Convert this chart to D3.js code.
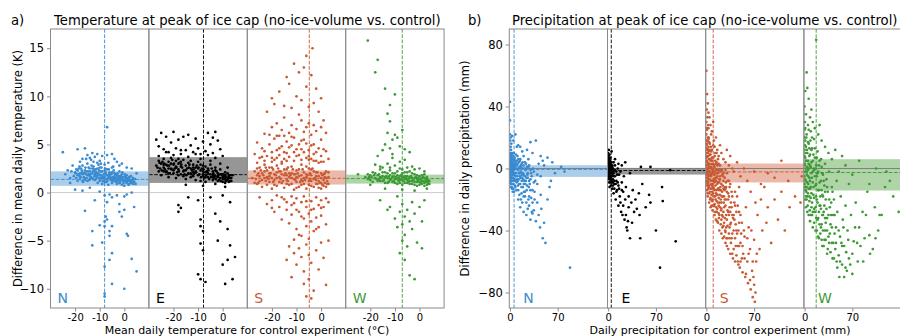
<!DOCTYPE html>
<html><head><meta charset="utf-8">
<script src="https://cdn.jsdelivr.net/npm/d3@7"></script>
<style>body{margin:0;background:#fff}text{font-family:"DejaVu Sans",sans-serif}</style>
</head><body><script>
// ---------- DATA ----------
const regions = ["N","E","S","W"];
const tempXTicks = [-20,-10,0];
const tempYTicks = [-10,-5,0,5,10,15];
const precXTicks = [0,70];
const precYTicks = [-80,-40,0,40,80];

const tempMeanX = [-8,-7.8,-4.8,-7];
const tempMeanY = [1.37,1.86,1.48,1.45];
const tempBandLo = [0.7,1.0,0.83,0.93];
const tempBandHi = [2.2,3.68,2.3,1.86];

const precMeanX = [6,4.5,10,17];
const precMeanY = [-0.6,-1.3,-2.2,-2.6];
const precBandLo = [-5.4,-3.9,-9,-14.2];
const precBandHi = [2.1,0.4,3.2,6];

const tempN = [[-20,2.1],[-19,1.8],[-18.5,2.5],[-18,1.4],[-17.5,2.0],[-17,2.8],[-16.5,1.6],[-16,2.3],[-15.5,1.9],[-15,3.0],[-15,1.2],[-14.5,2.6],[-14,1.7],[-14,2.2],[-13.5,3.4],[-13,1.5],[-13,2.0],[-12.5,2.7],[-12,1.3],[-12,1.9],[-11.5,2.4],[-11,1.6],[-11,3.1],[-10.5,2.0],[-10,1.2],[-10,2.6],[-9.5,1.8],[-9,0.9],[-9,2.2],[-8.5,1.5],[-8,2.9],[-8,1.1],[-7.5,1.9],[-7,1.4],[-7,2.4],[-6.5,0.8],[-6,1.7],[-6,2.1],[-5.5,1.3],[-5,2.6],[-5,1.0],[-4.5,1.6],[-4,2.0],[-4,1.2],[-3.5,1.5],[-3,0.9],[-3,1.8],[-2.5,1.3],[-2,2.2],[-2,1.0],[-1.5,1.5],[-1,0.8],[-1,1.9],[-0.5,1.2],[0,1.6],[0,0.7],[0.5,1.3],[1,1.0],[1,1.8],[1.5,1.4],[2,0.9],[2,1.6],[2.5,1.2],[3,1.0],[3.5,1.5],[4,1.1],
[-19.5,1.5],[-18,2.0],[-16,1.3],[-14.5,1.9],[-13,2.5],[-11.5,1.4],[-10,1.8],[-9,1.5],[-8,2.3],[-6.5,1.5],[-5.5,2.0],[-4,1.6],[-2.5,1.7],[-1,1.4],[0.5,1.7],[2,1.3],[-17,1.2],[-12,2.2],[-7,1.8],[-3,1.4],
[-19.5,2.4],[-19,1.2],[-18.7,1.9],[-18.2,2.7],[-17.8,1.6],[-17.3,2.3],[-16.8,1.1],[-16.3,2.0],[-15.8,2.6],[-15.3,1.5],[-14.8,2.2],[-14.3,1.3],[-13.8,1.9],[-13.3,2.8],[-12.8,1.4],[-12.3,2.4],[-11.8,1.7],[-11.3,2.1],[-10.8,1.0],[-10.3,2.3],[-9.8,1.5],[-9.3,2.6],[-8.8,1.2],[-8.3,1.9],[-7.8,2.5],[-7.3,1.1],[-6.8,1.8],[-6.3,2.4],[-5.8,1.5],[-5.3,1.9],[-4.8,1.2],[-4.3,2.3],[-3.8,1.7],[-3.3,1.1],[-2.8,2.0],[-2.3,1.5],[-1.8,1.0],[-1.3,1.7],[-0.8,2.1],[-0.3,1.0],[0.2,1.9],[0.7,1.1],[1.2,1.5],[1.7,0.8],[2.2,1.2],[2.7,1.7],[3.2,1.3],[3.7,0.9],[4.3,1.4],[-20.5,1.7],[-21.5,2.2],[-22,1.0],[-9.5,3.0],[-12.5,3.2],[-15.5,3.5],[-6.5,3.1],[-2,2.8],[-18,3.2],[-10.5,2.9],[-4.5,2.7],
[-19.8,2.0],[-18.9,2.3],[-18.1,1.7],[-17.6,2.5],[-16.9,1.9],[-16.1,1.5],[-15.6,2.2],[-14.9,1.8],[-14.1,2.5],[-13.6,1.6],[-12.9,2.2],[-12.1,1.7],[-11.6,2.0],[-10.9,2.5],[-10.1,1.5],[-9.6,2.2],[-8.9,1.7],[-8.1,1.4],[-7.6,2.1],[-6.9,1.2],[-6.1,1.9],[-5.6,1.6],[-4.9,2.1],[-4.1,1.4],[-3.6,1.9],[-2.9,1.2],[-2.1,1.7],[-1.6,1.2],[-0.9,1.6],[-0.1,1.3],[0.6,1.5],[1.3,1.2],[1.9,1.4],[2.6,1.0],[3.3,1.2],[4.6,0.9],[-17,2.1],[-14,1.4],[-11,1.8],[-8,1.6],[-5,1.4],[-2,1.4],[1,1.3],
[-25,4.2],[-21,2.8],[-19,4.5],[-17,3.5],[-16,4.6],[-15,3.9],[-14,3.6],[-13,4.1],[-12,3.7],[-11,4.0],[-10,3.3],[-9,3.8],[-7,3.9],[-5,4.0],[-4,3.5],[-3,3.2],[-1,3.0],[1,2.6],[3,2.5],[5,2.0],[-23,2.3],[-22,1.5],[-24,1.9],
[-20,0.3],[-17,0.2],[-14,0.5],[-12,-0.8],[-10,0.1],[-8,-0.3],[-7,-1.0],[-6,-0.2],[-5,-0.5],[-3,-0.3],[-2,-1.2],[0,-0.4],[1,-0.2],[3,0.0],[4,-1.5],[-16,-1.9],
[-7.5,-2.5],[-8,-3.0],[-7,-2.8],[-8,-3.5],[-10,-3.4],[-13,-4.0],[-13,-5.5],[-6,-4.0],[-5,-3.5],[-6,-4.5],[-9,-5.2],[-5,-6.3],[-6,-7.0],[-8,-7.7],[-8,-10.5],[-8,-10.8],[-5,-9.5],[1,-4.3],[1.5,-4.5],[3,-6.9],[5,-8.2],[0,-10.0],[-2,-2.0],[-1,-2.5],[0,-1.8],[-7,6.8]];

const tempE = [[-27,2.8],[-26,3.3],[-26,2.2],[-25,3.0],[-25,1.8],[-24,2.6],[-24,3.5],[-23,2.1],[-23,2.9],[-22,3.2],[-22,1.6],[-21,2.5],[-21,3.6],[-20,2.0],[-20,2.9],[-19,3.3],[-19,1.5],[-18,2.4],[-18,3.0],[-17,1.9],[-17,2.7],[-16,3.4],[-16,2.2],[-15,1.4],[-15,2.8],[-14,2.0],[-14,3.1],[-13,2.5],[-13,1.6],[-12,2.9],[-12,2.1],[-11,1.3],[-11,2.6],[-10,3.2],[-10,1.8],[-9,2.3],[-9,1.2],[-8,2.8],[-8,1.7],[-7,2.1],[-7,1.1],[-6,2.5],[-6,1.6],[-5,1.9],[-5,2.9],[-4,1.3],[-4,2.2],[-3,1.7],[-3,2.6],[-2,1.2],[-2,2.0],[-1,1.5],[-1,2.4],[0,1.1],[0,1.8],[0.5,1.4],[1,2.1],[1,1.0],[1.5,1.6],[2,1.3],[2,2.0],[2.5,1.1],[3,1.5],[3.5,1.2],[-26,3.8],[-20,3.9],[-14,3.7],[-9,3.5],[-5,3.3],[-1,3.0],[2,2.6],[-23,4.2],[-17,4.4],[-11,4.0],[-6,3.9],[-3,3.6],[4,1.8],[-15,0.8],[-8,0.7],[-3,0.9],[1,0.6],
[-24,2.2],[-21,3.0],[-18,1.8],[-15,2.3],[-12,1.7],[-10,2.5],[-7,1.6],[-4,1.8],[-2,1.6],[0,1.4],[2.5,1.6],[-19,2.7],[-13,3.3],[-8,2.2],
[-25.5,2.5],[-24.5,3.2],[-23.5,2.4],[-22.5,2.8],[-21.5,2.0],[-20.5,3.4],[-19.5,2.5],[-18.5,2.1],[-17.5,3.1],[-16.5,2.6],[-15.5,1.9],[-14.5,2.5],[-13.5,2.9],[-12.5,2.3],[-11.5,2.0],[-10.5,2.8],[-9.5,1.9],[-8.5,2.5],[-7.5,1.5],[-6.5,2.2],[-5.5,1.4],[-4.5,2.5],[-3.5,1.5],[-2.5,2.2],[-1.5,1.3],[-0.5,1.9],[0.5,1.7],[1.5,1.3],[2.5,1.8],[3.5,1.5],[-20,2.3],[-16,1.7],[-11,2.2],[-6,2.0],[-2,1.7],[1,1.5],[-24,2.9],[-13,2.0],[-8,1.9],[-4,1.6],[0,1.6],[3,1.2],[-22,2.5],[-18,3.5],[-9,2.9],[-1,1.9],
[-26.5,2.6],[-25.7,3.1],[-24.8,2.3],[-23.8,3.0],[-22.8,2.2],[-21.8,2.8],[-20.8,2.4],[-19.8,3.0],[-18.8,2.6],[-17.8,2.2],[-16.8,2.9],[-15.8,2.3],[-14.8,1.8],[-13.8,2.6],[-12.8,1.9],[-11.8,2.4],[-10.8,2.1],[-9.8,2.6],[-8.8,1.6],[-7.8,2.4],[-6.8,1.8],[-5.8,2.3],[-4.8,1.6],[-3.8,2.0],[-2.8,1.4],[-1.8,1.8],[-0.8,1.2],[0.2,1.9],[1.2,1.2],[2.2,1.5],[3.2,1.8],[-7,2.7],[-12,2.6],[-17,3.2],[-22,2.0],[-3,2.3],[1,1.8],
[-27,5.5],[-26,4.8],[-25,6.2],[-24,4.5],[-23,5.8],[-22,4.2],[-21,5.2],[-20,6.3],[-19,4.6],[-18,5.5],[-17,4.0],[-16,5.8],[-15,4.4],[-14,6.0],[-13,4.9],[-12,4.2],[-11,5.6],[-10,4.6],[-9,4.0],[-8,5.3],[-7,4.3],[-6,6.2],[-5,5.0],[-4,4.1],[-3,6.3],[-2,5.4],[-1,4.5],[0,3.8],[-4,5.7],
[-18,-1.3],[-18,-2.0],[-17,-1.6],[-14,-0.5],[-10,-0.8],[-9,-2.8],[-9,-3.5],[-8,-4.0],[-9,-5.3],[-8,-6.0],[-10,-8.5],[-9,-9.0],[-7,-9.3],[-2,-5.0],[0,-7.5],[2,-7.0],[3,-5.5],[1,-9.5],[4,-9.0],[-1,-3.0],[2,-3.8],[-3,-2.2],[3,-1.0],[5,-6.7],[-5,-0.5],[0,-0.3]];

const tempS = [[-28,1.5],[-27,2.2],[-26,0.9],[-26,1.8],[-25,2.6],[-25,1.2],[-24,0.6],[-24,2.0],[-23,1.5],[-23,2.9],[-22,0.8],[-22,2.3],[-21,1.7],[-21,1.1],[-20,2.6],[-20,0.4],[-19,1.9],[-19,1.3],[-18,2.8],[-18,0.7],[-17,1.6],[-17,2.2],[-16,1.0],[-16,3.0],[-15,1.8],[-15,0.5],[-14,2.4],[-14,1.3],[-13,0.8],[-13,2.0],[-12,2.7],[-12,1.5],[-11,0.3],[-11,1.9],[-10,2.3],[-10,1.1],[-9,0.6],[-9,1.7],[-8,2.9],[-8,1.3],[-7,0.9],[-7,2.1],[-6,1.6],[-6,0.4],[-5,2.5],[-5,1.2],[-4,1.8],[-4,0.7],[-3,1.4],[-3,2.2],[-2,0.9],[-2,1.7],[-1,1.2],[-1,0.5],[0,1.5],[0,2.0],[0.5,0.8],[1,1.3],[1,1.9],[1.5,1.0],[2,1.5],[2,0.6],[2.5,1.2],[3,1.6],[3,0.9],[-18,1.5],[-14,1.8],[-10,1.6],[-6,1.9],[-2,1.3],[-21,2.0],[-12,0.9],[-8,1.8],[-4,1.2],[0,1.0],
[-27,1.0],[-26,2.5],[-25,1.7],[-24,1.3],[-23,2.2],[-22,1.6],[-21,2.6],[-20,1.5],[-19,0.8],[-18,2.1],[-17,1.1],[-16,1.9],[-15,2.4],[-14,0.9],[-13,1.6],[-12,2.0],[-11,1.4],[-10,0.5],[-9,2.4],[-8,0.8],[-7,1.5],[-6,2.7],[-5,0.8],[-4,2.4],[-3,0.6],[-2,2.1],[-1,1.7],[0,0.4],[1,0.7],[2,2.2],[3,2.1],[-25.5,2.0],[-22.5,1.2],[-19.5,2.4],[-16.5,1.4],[-13.5,2.6],[-10.5,1.9],[-7.5,1.2],[-4.5,2.0],[-1.5,0.9],[1.5,1.6],[-23,4.3],[-20,3.2],[-17,4.6],[-14,3.3],[-11,4.2],[-8,3.4],[-5,3.4],[-2,4.2],[1,4.5],[-26,3.1],[-12,5.8],[-9,5.0],[-6,6.8],[-3,7.0],[-15,5.9],[-18,5.9],[-21,6.0],[0,6.8],[-7,5.5],[-4,4.9],
[-26.5,1.4],[-25.5,1.0],[-24.5,2.3],[-23.5,1.8],[-22.5,2.6],[-21.5,1.4],[-20.5,2.0],[-19.5,1.1],[-18.5,1.8],[-17.5,2.5],[-16.5,2.2],[-15.5,1.2],[-14.5,2.0],[-13.5,1.2],[-12.5,1.8],[-11.5,2.4],[-10.5,1.3],[-9.5,2.0],[-8.5,1.1],[-7.5,2.4],[-6.5,1.3],[-5.5,1.8],[-4.5,1.4],[-3.5,2.5],[-2.5,1.5],[-1.5,2.1],[-0.5,1.0],[0.5,1.8],[1.5,2.0],[2.5,0.9],[-20,3.6],[-15,4.2],[-10,3.8],[-5,3.8],[-13,4.7],[-8,4.5],[-3,3.3],[-18,3.6],[-24,3.7],[0,3.2],[-16,-0.5],[-12,-1.3],[-8,-2.5],[-4,-1.8],[0,-1.6],[-6,-0.9],[-10,-1.8],[-14,-1.0],[-2,-3.8],[-20,-1.6],
[-27,4.0],[-26,5.2],[-25,3.6],[-24,4.6],[-23,6.1],[-22,3.8],[-21,5.0],[-20,4.2],[-20,6.8],[-19,3.4],[-19,5.6],[-18,4.4],[-18,7.2],[-17,3.9],[-17,5.9],[-16,4.8],[-16,6.5],[-15,3.5],[-15,7.8],[-14,5.3],[-14,4.1],[-13,6.2],[-13,3.7],[-12,4.9],[-12,7.0],[-11,5.7],[-11,3.3],[-10,6.6],[-10,4.5],[-9,8.1],[-9,3.9],[-8,5.4],[-8,7.5],[-7,4.2],[-7,6.3],[-6,3.6],[-6,5.1],[-5,7.2],[-5,4.4],[-4,6.0],[-4,3.5],[-3,5.0],[-3,4.0],[-2,3.3],[-2,6.4],[-1,4.6],[0,3.8],[0,5.5],[1,3.2],[2,4.3],[3,3.5],[-1,3.1],[-23,3.3],[-16,3.2],
[-22,8.4],[-19,9.2],[-17,10.5],[-15,9.0],[-13,11.3],[-12,8.8],[-10,10.0],[-9,12.5],[-8,9.6],[-7,13.0],[-6,11.0],[-5,8.9],[-4,12.2],[-3.5,15.0],[-3,9.3],[-2,10.8],[-1,8.4],[0,9.8],[-11,13.4],[-14,12.0],[-6,14.2],[1,7.5],[-20,9.8],[2,6.2],
[-25,-0.5],[-22,-1.2],[-20,-0.8],[-19,-2.0],[-18,-0.3],[-17,-1.5],[-16,-2.8],[-15,-0.7],[-14,-1.8],[-13,-3.2],[-12,-0.4],[-12,-2.3],[-11,-1.1],[-10,-3.8],[-10,-0.6],[-9,-2.0],[-8,-4.5],[-8,-1.0],[-7,-2.7],[-7,-0.4],[-6,-3.5],[-6,-1.5],[-5,-2.2],[-5,-4.8],[-4,-0.9],[-4,-3.0],[-3,-1.7],[-3,-4.0],[-2,-0.5],[-2,-2.6],[-1,-1.3],[-1,-3.6],[0,-0.8],[0,-2.4],[1,-1.5],[2,-0.6],[2,-3.3],[3,-1.0],[-9,-4.4],[-11,-4.9],
[-13,-5.6],[-11,-6.3],[-10,-7.5],[-9,-5.8],[-8,-6.7],[-7,-8.2],[-6,-5.4],[-5,-9.0],[-5,-6.5],[-4,-7.3],[-3,-10.2],[-2,-6.0],[-1,-8.0],[0,-5.2],[1,-6.8],[2,-9.6],[-6,-10.8],[-4,-11.0],[-12,-8.8],[-14,-7.0],[3,-5.0],[-7,-9.5]];

const tempW = [[-22,1.6],[-21,1.9],[-20,1.3],[-19,2.1],[-18,1.5],[-17,1.8],[-16,2.4],[-16,1.2],[-15,1.7],[-14,2.1],[-14,1.0],[-13,1.5],[-12,2.3],[-12,1.8],[-11,1.1],[-11,1.6],[-10,2.0],[-10,1.4],[-9,0.9],[-9,1.8],[-8,2.5],[-8,1.3],[-7,1.6],[-7,0.8],[-6,2.1],[-6,1.4],[-5,1.0],[-5,1.7],[-4,2.2],[-4,1.2],[-3,0.9],[-3,1.5],[-2,1.9],[-2,1.1],[-1,1.4],[-1,0.7],[0,1.7],[0,1.1],[0.5,1.4],[1,0.9],[1,1.8],[1.5,1.2],[2,1.5],[2,0.7],[2.5,1.1],[3,1.3],[3.5,0.9],[4,1.2],[-15,2.6],[-10,2.8],[-5,2.6],[-13,3.0],[-8,3.2],[-3,2.7],[-18,2.9],[-11,3.6],[-6,3.4],[0,2.5],[-20,0.8],[-14,0.4],[-7,0.3],[-2,0.2],[3,0.4],[-25,1.9],[-17,3.8],
[-21,1.4],[-20,1.8],[-19,1.1],[-18,2.0],[-17,1.2],[-16,1.6],[-15,1.2],[-15,2.1],[-14,1.6],[-13,2.0],[-13,1.0],[-12,1.3],[-11,2.0],[-10,1.0],[-9,1.4],[-9,2.2],[-8,1.0],[-8,1.7],[-7,2.0],[-7,1.3],[-6,1.0],[-6,1.7],[-5,1.3],[-5,2.1],[-4,0.9],[-4,1.6],[-3,1.2],[-3,2.0],[-2,0.8],[-2,1.5],[-1,1.1],[-1,1.8],[0,0.8],[0,1.4],[1,1.2],[1,1.5],[2,1.0],[2,1.9],[3,0.8],[3,1.6],[3.5,1.3],[4,0.9],[-16.5,1.9],[-12.5,1.6],[-8.5,1.5],[-4.5,1.4],[-0.5,1.2],[2.5,1.4],[-10.5,1.7],[-6.5,1.2],
[-20.5,1.6],[-19.5,1.6],[-18.5,1.8],[-17.5,1.4],[-16.5,1.4],[-15.5,1.5],[-14.5,1.3],[-13.5,1.7],[-12.5,1.1],[-11.5,1.4],[-10.5,1.2],[-9.5,1.6],[-8.5,1.2],[-7.5,1.8],[-6.5,1.6],[-5.5,1.5],[-4.5,1.1],[-3.5,1.7],[-2.5,1.3],[-1.5,1.6],[-0.5,1.5],[0.5,1.0],[1.5,1.6],[2.5,1.2],[3.5,1.1],[-12,2.6],[-7,2.4],[-2,2.4],[-16,2.7],[2,2.2],
[-15,4.4],[-14,5.0],[-13,6.2],[-12,4.6],[-12,7.4],[-11,5.5],[-10,6.0],[-13,8.2],[-12,9.1],[-10,10.2],[-11,4.0],[-8,4.8],[-6,4.5],[-9,5.7],[-14,10.8],[-21,15.8],[-17,13.8],[-18,12.5],[-4,4.2],[-7,6.5],
[-16,-0.8],[-12,-1.5],[-9,-0.4],[-8,-2.0],[-7,-1.2],[-7,-3.3],[-6,-2.5],[-6,-4.4],[-5,-1.8],[-5,-5.6],[-4,-3.0],[-4,-8.6],[-3,-1.0],[-3,-3.8],[-2,-2.2],[-1,-5.2],[0,-1.5],[1,-3.0],[2,-0.8],[-8,-6.3],[-6,-7.0],[-2,-9.0],[-10,-2.7],[-9,-3.6],[-7,-5.0],[1,-5.8],[-13,-1.8]];

const precN = [[0.5,5],[1,8],[1,-3],[1.5,12],[2,2],[2,-6],[2.5,9],[3,-1],[3,4],[3.5,-8],[4,6],[4,-2],[5,1],[5,-10],[5.5,10],[6,-4],[6,3],[7,-7],[7,7],[8,0],[8,-12],[9,5],[9,-3],[10,-9],[10,2],[11,-5],[11,8],[12,-1],[12,-14],[13,4],[13,-7],[14,-3],[14,1],[15,-10],[15,6],[16,-2],[17,-16],[17,3],[18,-6],[18,0],[19,-12],[20,2],[20,-4],[21,-8],[22,4],[22,-18],[23,-1],[24,-6],[25,1],[25,-11],[26,-3],[27,-20],[28,2],[28,-8],[30,-1],[30,-14],[32,-5],[33,-22],[34,0],[35,-9],
[0.3,0],[0.5,-2],[0.8,3],[1.2,-5],[1.5,1],[0.2,7],[0.7,-8],[2.2,-10],[1,14],[0.5,18],[3,-13],[4,-15],[2,16],[6,-15],[1,-12],[0.3,-6],[0.8,-1],[1.8,4],[2.8,-4],[3.2,1],
[0.2,3],[0.4,-4],[0.6,9],[0.9,-10],[1.1,1],[1.3,6],[1.6,-7],[1.9,-2],[2.3,7],[2.6,-12],[2.9,0],[3.4,10],[3.7,-6],[4.2,2],[4.6,-13],[4.8,8],[5.2,-3],[5.7,5],[6.2,-8],[6.6,1],[7.2,-11],[7.6,4],[8.3,-5],[8.7,9],[9.4,-14],[9.8,0],[10.5,-7],[11.2,3],[11.7,-11],[12.4,6],[13.2,-3],[13.8,-17],[14.5,5],[15.3,-6],[16.2,1],[16.8,-12],[17.5,-4],[18.5,4],[19.5,-7],[20.5,-15],[21.5,0],[22.5,-10],[23.5,3],[24.5,-14],[26,-6],[27,1],[29,-10],[31,-3],[33,-14],[35,-2],[37,-8],[40,-4],[24,-22],[20,-18],[16,-20],[36,-20],[32,-28],[28,-18],
[0.1,1],[0.3,-9],[0.6,5],[0.9,-6],[1.1,10],[1.4,-3],[1.7,3],[2.1,-8],[2.4,5],[2.7,-2],[3.1,-10],[3.6,3],[4.1,-4],[4.4,8],[5.1,-6],[5.6,-1],[6.1,6],[6.8,-3],[7.4,2],[8.1,-8],[8.8,3],[9.6,-5],[10.3,5],[11.4,-8],[12.8,0],[13.6,-10],[14.8,-5],[15.8,2],[17.2,-8],[18.8,-3],[20.2,-10],[21.8,-5],[23.2,-8],[25.5,-4],[27.5,-12],[30,-7],
[12,-20],[15,-25],[18,-22],[20,-28],[22,-15],[24,-30],[26,-26],[28,-24],[30,-33],[31,-19],[33,-29],[35,-27],[36,-15],[38,-34],[40,-22],[42,-30],[44,-38],[45,-17],[46,-26],[48,-45],[52,-48],[50,-35],[55,-20],[58,-12],[60,-8],[88,-64],[40,-10],[45,-5],
[0,43],[0,31],[0,22],[1,20],[3,21],[5,18],[8,22],[12,15],[15,14],[18,11],[25,12],[30,17],[38,18],[45,8],[48,5],[55,7],[66,-3],[75,1],[80,-2],[20,8],[27,6],[10,14],[33,10],[42,3],[50,2],[62,4]];

const precE = [[0,2],[0,-3],[0,5],[0.5,-1],[0.5,8],[1,0],[1,-5],[1,3],[1.5,-2],[1.5,6],[2,-4],[2,1],[2.5,-7],[2.5,3],[3,-1],[3,-9],[3.5,2],[4,-3],[4,-11],[4.5,1],[5,-5],[5,4],[6,-2],[6,-13],[7,0],[7,-7],[8,-3],[8,-16],[9,-1],[9,-10],[10,-5],[10,2],[11,-20],[12,-8],[12,-2],[13,-14],[14,0],[15,-11],[15,-24],[16,-4],[17,-18],[18,-2],[19,-28],[20,-9],[21,-30],[22,-15],[23,-5],[24,-33],[25,-20],[26,-12],[27,-38],[28,-40],[30,-18],[30,-25],[32,-45],[34,-22],[36,-14],[38,-28],[40,-20],[42,-26],[45,-16],[46,-30],[47,-45],[50,-10],[55,-25],[60,-17],[62,-22],[70,-40],[76,-64],[79,-12],[80,-21],[99,-47],
[0,0],[0,-1],[0,7],[0.3,-4],[0.3,3],[0.6,1],[0.8,-2],[1,5],[1.2,-7],[1.4,2],[1.7,-4],[2,4],[2.2,-1],[2.5,0],[2.8,-5],[3.2,3],[3.5,-3],[3.8,-7],[4.2,0],[4.6,-5],[5,-1],[5.5,-9],[6,2],[6.5,-4],[7,-9],[7.5,-2],[8.5,-8],[9,-13],[10,-1],[11,-10],[12,-15],[13,-4],[14,-9],[16,-13],[18,-22],[20,-14],[22,-24],[26,-30],[29,-34],[35,-35],
[0,10],[1,12],[2,9],[3,7],[5,11],[8,4],[10,6],[15,3],[20,2],[25,4],[32,-3],[48,1],[91,-1],[62,1],[0.5,-6],[1.5,-9],[2,-12],[3,5],[4,-6],[5,-8],[6,1],[7,-11],[8,-5]];

const precS = [[0,30],[0,22],[0,15],[0,8],[0,0],[0,-6],[0.5,38],[0.5,12],[0.5,-3],[1,25],[1,5],[1,-8],[1.5,18],[1.5,-1],[2,10],[2,-10],[2.5,28],[2.5,2],[3,14],[3,-5],[3.5,20],[3.5,-12],[4,6],[4,-2],[4.5,33],[5,16],[5,-7],[5,-15],[6,9],[6,0],[6.5,-10],[7,22],[7,-4],[7.5,-17],[8,12],[8,3],[9,-8],[9,-20],[10,7],[10,-2],[11,-13],[11,18],[12,1],[12,-23],[13,-6],[13,10],[14,-16],[15,4],[15,-3],[16,-26],[16,-10],[17,6],[18,-19],[18,-1],[19,-30],[20,-7],[20,2],[21,-14],[22,-33],[22,-22],[23,-4],[24,-11],[25,-28],[25,-37],[26,-18],[27,-6],[28,-41],[28,-24],[29,-12],[30,-33],[31,-45],[32,-20],[33,-8],[34,-38],[35,-28],[36,-48],[37,-15],[38,-42],[39,-32],[40,-52],[41,-22],[42,-45],[43,-36],[44,-56],[45,-18],[46,-60],[47,-40],[48,-28],[49,-64],[50,-48],[52,-35],[53,-67],[54,-55],[56,-44],[57,-70],[58,-25],[60,-60],[61,-74],[62,-38],[64,-52],[65,-78],[67,-66],[68,-83],[70,-46],[71,-86],[73,-60],[75,-30],[78,-52],[80,-20],[82,-40],[85,-12],[88,-35],[90,-25],[95,-48],[100,-20],[105,-33],[110,-15],[115,-40],[122,-25],[130,-18],[138,-22],[140,-5],
[0,18],[0,5],[0,-2],[0.5,26],[0.5,7],[1,13],[1,0],[1,-4],[1.5,33],[1.5,8],[2,20],[2,3],[2,-6],[2.5,-13],[3,26],[3,0],[3,-9],[3.5,11],[4,-16],[4,17],[4.5,1],[5,-4],[5,9],[5.5,-20],[6,-13],[6,5],[6.5,14],[7,-8],[7,1],[7.5,-24],[8,-3],[8,7],[8.5,-15],[9,-1],[9,-27],[10,-12],[10,15],[10.5,-18],[11,2],[11,-7],[12,-4],[12,-30],[12.5,-14],[13,5],[13.5,-20],[14,-8],[14,-33],[15,-14],[15,10],[15.5,-28],[16,-1],[16.5,-17],[17,-9],[17,-35],[18,-24],[18,3],[19,-14],[19,-40],[20,-5],[20,-25],[21,-36],[21,-20],[22,-10],[22,-42],[23,-30],[23,-1],[24,-18],[24,-45],[25,-13],[25,-3],[26,-25],[26,-44],[27,-12],[27,-32],[28,-1],[28,-48],[29,-20],[29,-30],[30,-15],[30,-50],[31,-8],[31,-37],[32,-28],[32,-52],[33,-18],[33,-42],[34,-25],[34,-12],[35,-55],[35,-36],[36,-22],[37,-45],[38,-30],[38,-18],[39,-58],[40,-40],[41,-33],[42,-24],[42,-60],[43,-50],[44,-28],[45,-42],[46,-50],[47,-62],[48,-35],[50,-60],[51,-42],[53,-50],[56,-58],[58,-68],[60,-45],[62,-55],[64,-72],[66,-40],[68,-60],[70,-75],[72,-80],[74,-55],[69,-70],
[0.2,10],[0.2,-9],[0.7,2],[0.9,16],[1.2,-11],[1.6,4],[1.9,-16],[2.3,12],[2.6,-3],[3.1,19],[3.4,-7],[3.8,3],[4.3,-11],[4.7,12],[5.2,-2],[5.8,6],[6.2,-25],[6.8,-5],[7.3,5],[7.8,-13],[8.3,-21],[8.8,0],[9.3,-10],[9.8,-16],[10.3,3],[10.8,-8],[11.3,-24],[11.8,-2],[12.3,8],[12.8,-18],[13.3,-11],[13.8,-1],[14.3,-25],[14.8,-6],[15.3,-17],[15.8,-34],[16.3,2],[16.8,-22],[17.3,-3],[17.8,-13],[18.3,-32],[18.8,-7],[19.3,-22],[19.8,-1],[20.5,-12],[21.5,-27],[22.5,-18],[23.5,-38],[24.5,-5],[25.5,-22],[26.5,-14],[27.5,-40],[28.5,-9],[29.5,-45],
[0,63],[1,48],[2,42],[3,36],[6,28],[8,24],[10,30],[12,14],[14,20],[16,12],[18,8],[20,15],[22,10],[25,6],[28,4],[30,12],[33,2],[35,8],[40,-2],[45,4],[50,-5],[55,0],[60,-8],[70,-2],[80,-10],[90,-3],[100,-6],[110,5],[120,-8],[65,-15],[72,-22],[48,-12],[38,0],
[1,-14],[2,-18],[3,8],[4,-22],[5,3],[6,-19],[7,11],[8,-11],[9,5],[10,-24],[11,-4],[12,-9],[13,-28],[14,3],[15,-21],[16,-5],[17,-13],[18,-29],[19,-9],[20,-17],[21,-2],[22,-26],[23,-15],[24,-31],[25,-8],[26,-35],[27,-20],[28,-13],[29,-38],[30,-3],[31,-27],[32,-16],[33,-30],[34,-45],[35,-10],[36,-35],[37,-25],[38,-55],[40,-30],[42,-15],[44,-40],[46,-24],[48,-50],[50,-30],[52,-58],[55,-40]];

const precW = [[0,40],[0,25],[0,12],[0,3],[0,-5],[0.5,30],[0.5,-12],[1,18],[1,7],[1,-2],[1.5,-8],[2,35],[2,14],[2,0],[2.5,-15],[3,22],[3,5],[3.5,-4],[4,10],[4,-18],[5,28],[5,-1],[5.5,-10],[6,16],[6,3],[7,-6],[7,-21],[8,9],[8,-13],[9,24],[9,1],[10,-3],[10,-25],[11,13],[12,-9],[12,5],[13,-17],[14,-1],[14,19],[15,-28],[15,7],[16,-11],[17,2],[18,-20],[18,-5],[19,11],[20,-32],[20,-2],[21,-14],[22,5],[23,-24],[24,-8],[25,-36],[25,1],[26,-17],[27,-4],[28,-28],[29,-11],[30,-40],[30,3],[31,-20],[32,-7],[33,-32],[34,-15],[35,-44],[36,-2],[37,-25],[38,-36],[40,-12],[40,-48],[42,-30],[43,-20],[45,-52],[46,-38],[47,-8],[48,-28],[50,-56],[52,-44],[53,-18],[55,-62],[56,-33],[58,-50],[60,-24],[62,-66],[63,-40],[65,-58],[68,-30],[70,-68],[72,-47],[75,-22],[78,-60],[80,-38],[85,-28],[88,-45],[92,-15],[95,-43],[100,-52],[103,-25],[110,-30],[113,-30],[118,-12],[125,-8],[130,-18],[138,-28],
[0,20],[0,8],[0,-10],[0.5,15],[0.5,2],[1,-7],[1,26],[1.5,10],[1.5,-14],[2,5],[2,-18],[2.5,20],[3,-2],[3,-20],[3.5,12],[4,1],[4,-9],[4.5,-24],[5,17],[5,5],[5.5,-5],[6,-13],[6,25],[6.5,0],[7,-18],[7,13],[7.5,-27],[8,2],[8,-8],[8.5,18],[9,-12],[9,-30],[10,4],[10,-16],[10.5,-6],[11,-22],[11,20],[12,-2],[12,-28],[13,9],[13,-12],[14,-35],[14,-19],[15,-5],[15,13],[16,-25],[16,0],[17,-32],[17,-10],[18,7],[18,-40],[19,-22],[19,-3],[20,-14],[20,-44],[21,-28],[21,2],[22,-36],[22,-9],[23,-18],[23,-42],[24,-26],[24,6],[25,-14],[25,-46],[26,-30],[26,-3],[27,-40],[27,-18],[28,-50],[28,-8],[29,-24],[30,-32],[30,-15],[31,-46],[32,-26],[33,-12],[33,-40],[34,-52],[35,-30],[36,-20],[37,-42],[38,-54],[39,-30],[40,-38],[41,-15],[42,-48],[43,-58],[44,-30],[46,-48],[48,-64],[50,-40],[52,-60],[55,-50],[58,-70],[61,-54],[64,-46],[67,-62],[70,-55],[74,-38],[77,-48],[82,-50],[86,-60],[90,-30],[96,-55],[104,-45],[108,-40],
[17,83],[3,62],[1,50],[6,45],[10,38],[12,30],[15,26],[20,22],[25,18],[8,33],[30,14],[35,10],[40,6],[45,12],[55,8],[60,2],[70,-4],[80,5],[95,-10],[105,0],[120,-2],[50,-2],[65,-10],[22,28],[4,52],
[1,-20],[2,-25],[3,-12],[4,-28],[5,-16],[6,-30],[7,8],[8,-34],[9,-19],[10,12],[11,-30],[12,-38],[13,0],[14,-26],[16,-40],[17,-18],[19,-33],[21,-45],[22,-24],[24,-38],[26,-50],[27,-30],[29,-46],[31,-35],[33,-55],[36,-48],[39,-22],[41,-58],[44,-42],[47,-60],[51,-70],[54,-48],[57,-38],[60,-64]];

// ---------- STYLE ----------
const dotColors = ["#3a8bd0","#000000","#c95a33","#3d9a35"];
const bandColors = ["#a9cdea","#969696","#ebb9aa","#afd4a8"];
const frameColor = "#8a8a8a";

const svg = d3.select("body").append("svg").attr("width",900).attr("height",336);

function drawChart(o){
  const g = svg.append("g");
  const y = d3.scaleLinear().domain(o.yDomain).range([o.bottom,o.top]);
  o.data.forEach((pts,i)=>{
    const x0 = o.x0 + i*o.subW, x1 = x0 + o.subW;
    const x = d3.scaleLinear().domain(o.xDomain).range([x0,x1]);
    const cid = `clip${o.id}${i}`;
    svg.append("clipPath").attr("id",cid).append("rect")
      .attr("x",x0).attr("y",o.top).attr("width",o.subW).attr("height",o.bottom-o.top);
    const cg = g.append("g").attr("clip-path",`url(#${cid})`);
    cg.append("rect").attr("x",x0).attr("width",o.subW)
      .attr("y",y(o.bandHi[i])).attr("height",y(o.bandLo[i])-y(o.bandHi[i]))
      .attr("fill",bandColors[i]);
    cg.append("line").attr("x1",x0).attr("x2",x1).attr("y1",y(0)).attr("y2",y(0))
      .attr("stroke",o.zeroColor).attr("stroke-width",1);
    cg.selectAll("circle.p").data(pts).join("circle")
      .attr("cx",d=>x(d[0])).attr("cy",d=>y(d[1])).attr("r",1.35).attr("fill",dotColors[i]);
    cg.append("line").attr("x1",x0).attr("x2",x1).attr("y1",y(o.meanY[i])).attr("y2",y(o.meanY[i]))
      .attr("stroke",dotColors[i]).attr("stroke-width",1).attr("stroke-dasharray","3.7,1.6").attr("opacity",0.9);
    cg.append("line").attr("x1",x(o.meanX[i])).attr("x2",x(o.meanX[i])).attr("y1",o.top).attr("y2",o.bottom)
      .attr("stroke",dotColors[i]).attr("stroke-width",1).attr("stroke-dasharray","3.7,1.6").attr("opacity",0.9);
    g.append("rect").attr("x",x0).attr("y",o.top).attr("width",o.subW).attr("height",o.bottom-o.top)
      .attr("fill","none").attr("stroke",frameColor).attr("stroke-width",1);
    const ax = g.append("g").attr("transform",`translate(0,${o.bottom})`)
      .call(d3.axisBottom(x).tickValues(o.xTicks).tickSize(3.5).tickPadding(2).tickFormat(o.xFmt));
    ax.select(".domain").remove();
    ax.selectAll("line").attr("stroke",frameColor);
    ax.selectAll("text").attr("font-size",10).attr("fill","#000").attr("dy","0.71em");
    g.append("text").attr("x",x0+o.letterOff).attr("y",o.bottom-5).text(regions[i])
      .attr("font-size",14).attr("fill",dotColors[i]);
  });
  const ay = g.append("g").attr("transform",`translate(${o.x0},0)`)
    .call(d3.axisLeft(y).tickValues(o.yTicks).tickSize(3.5).tickFormat(d=>d<0?"\u2212"+Math.abs(d):d));
  ay.select(".domain").remove();
  ay.selectAll("line").attr("stroke",frameColor);
  ay.selectAll("text").attr("font-size",11.5).attr("fill","#000");
  svg.append("text").attr("x",o.letterX).attr("y",25).text(o.letter).attr("font-size",13.2);
  svg.append("text").attr("x",o.titleX).attr("y",25).text(o.title).attr("font-size",13.2);
  svg.append("text").attr("x",o.xlabX).attr("y",333.5).attr("text-anchor","middle").text(o.xlabel).attr("font-size",11);
  svg.append("text").attr("transform",`translate(${o.ylabX},${(o.top+o.bottom)/2}) rotate(-90)`)
    .attr("text-anchor","middle").text(o.ylabel).attr("font-size",11.5);
}

drawChart({id:"a", x0:50.5, subW:98.4, top:29, bottom:308, xDomain:[-30,10], yDomain:[-12,17],
  xTicks:tempXTicks, yTicks:tempYTicks, xFmt:d=>String(d),
  data:[tempN,tempE,tempS,tempW], meanX:tempMeanX, meanY:tempMeanY, bandLo:tempBandLo, bandHi:tempBandHi,
  zeroColor:"#cccccc", letterOff:7, letter:"a)", letterX:11, title:"Temperature at peak of ice cap (no-ice-volume vs. control)",
  titleX:54, xlabel:"Mean daily temperature for control experiment (°C)", xlabX:247,
  ylabel:"Difference in mean daily temperature (K)", ylabX:22});

drawChart({id:"b", x0:509.3, subW:98.2, top:29, bottom:308, xDomain:[-1,143], yDomain:[-90,90],
  xTicks:precXTicks, yTicks:precYTicks, xFmt:d=>String(d),
  data:[precN,precE,precS,precW], meanX:precMeanX, meanY:precMeanY, bandLo:precBandLo, bandHi:precBandHi,
  zeroColor:"#808080", letterOff:14, letter:"b)", letterX:468, title:"Precipitation at peak of ice cap (no-ice-volume vs. control)",
  titleX:512, xlabel:"Daily precipitation for control experiment (mm)", xlabX:720,
  ylabel:"Difference in daily precipitation (mm)", ylabX:469});
</script></body></html>
